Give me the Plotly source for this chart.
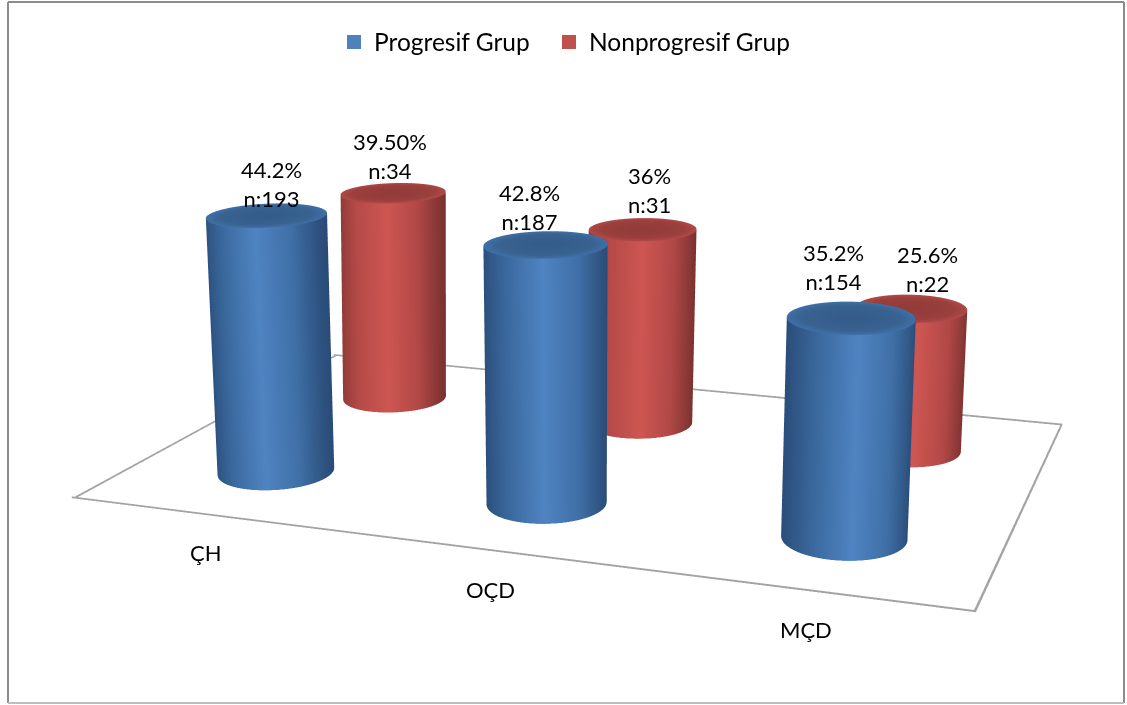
import numpy as np
import plotly.graph_objects as go

# Chart data
categories = ["ÇH", "OÇD", "MÇD"]
series_names = ["Progresif Grup", "Nonprogresif Grup"]
progresif_pct = [44.2, 42.8, 35.2]
nonprogresif_pct = [39.5, 36.0, 25.6]
progresif_labels = ["44.2%<br>n:193", "42.8%<br>n:187", "35.2%<br>n:154"]
nonprogresif_labels = ["39.50%<br>n:34", "36%<br>n:31", "25.6%<br>n:22"]

# Styling
FONT = "Lato, Carlito, sans-serif"
TEXT_SIZE = 22
TEXT_COLOR = "#000000"
BLUE_KEY, RED_KEY = "#4f81bd", "#c0504d"
BLUE_SIDE = [[0, "#2b4f7c"], [0.2, "#3a689d"], [0.5, "#4f84c2"], [0.78, "#3f6fa6"], [1, "#2a4c78"]]
RED_SIDE = [[0, "#8e3a38"], [0.2, "#b54a47"], [0.5, "#cd5652"], [0.78, "#b14846"], [1, "#7a3230"]]
BLUE_CAP = [[0, "#345b8a"], [0.75, "#38628f"], [1, "#3f70a8"]]
RED_CAP = [[0, "#913b39"], [0.75, "#9a3f3c"], [1, "#b04a47"]]
FLOOR_COLOR = [[0, "#a3a3a3"], [1, "#a3a3a3"]]
FLAT = dict(ambient=1, diffuse=0, specular=0, fresnel=0, roughness=1)

FIG_W, FIG_H = 1127, 1600
RADIUS_X, RADIUS_Y = 0.19, 0.215   # cylinder radius in category / series units
BASE_FLARE = 1.035                 # base ring drawn slightly wider than the top ring
COLUMN_OFFSET = 0.005              # small sideways nudge of every column on the floor
Z_MAX = 50
LEAN = 0.036                       # slight inward lean of the outer columns

# Floor limits, kept just inside the axis box so the ribbons are not clipped
FLOOR_X0, FLOOR_X1 = -0.498, 2.498
FLOOR_Y0, FLOOR_Y1 = -0.498, 1.498


def paper_y(px):
    return 1 - px / FIG_H


def cylinder(cat, ser, value, side_scale, cap_scale):
    """Side wall and top cap of one cylinder standing on the floor."""
    theta = np.linspace(0, 2 * np.pi, 121)
    shade = (np.cos(theta) * 0.94 + np.sin(theta) * 0.34 + 1) / 2
    base_cx = cat + COLUMN_OFFSET
    top_cx = base_cx + LEAN * (1 - cat) * value / Z_MAX
    sx0 = base_cx + BASE_FLARE * RADIUS_X * np.cos(theta)
    sx1 = top_cx + RADIUS_X * np.cos(theta)
    sy = ser + RADIUS_Y * np.sin(theta)
    side = go.Surface(
        x=np.vstack([sx0, sx1]), y=np.vstack([sy, sy]),
        z=np.vstack([np.zeros_like(theta), np.full_like(theta, value)]),
        surfacecolor=np.vstack([shade, shade]),
        colorscale=side_scale, cmin=0, cmax=1, showscale=False,
        lighting=FLAT, hoverinfo="skip",
    )
    rings = np.linspace(0, 1, 12)[:, None]
    cap = go.Surface(
        x=top_cx + rings * RADIUS_X * np.cos(theta),
        y=ser + rings * RADIUS_Y * np.sin(theta),
        z=np.full((12, 121), value),
        surfacecolor=rings * np.ones((12, 121)),
        colorscale=cap_scale, cmin=0, cmax=1, showscale=False,
        lighting=FLAT, hoverinfo="skip",
    )
    return [side, cap]


def floor_edge(x0, y0, x1, y1, dx=0.0, dz=0.0):
    """One floor outline edge as a narrow flat ribbon."""
    return go.Surface(
        x=[[x0, x1], [x0 + dx, x1 + dx]],
        y=[[y0, y1], [y0, y1]],
        z=[[0, 0], [dz, dz]],
        surfacecolor=[[0, 0], [0, 0]],
        colorscale=FLOOR_COLOR, cmin=0, cmax=1, showscale=False,
        lighting=FLAT, hoverinfo="skip",
    )


fig = go.Figure()

# Floor outline
fig.add_trace(floor_edge(FLOOR_X0, FLOOR_Y0, FLOOR_X1, FLOOR_Y0, dz=0.32))
fig.add_trace(floor_edge(FLOOR_X0, FLOOR_Y1, FLOOR_X1, FLOOR_Y1, dz=0.36))
fig.add_trace(floor_edge(FLOOR_X0, FLOOR_Y0, FLOOR_X0, FLOOR_Y1, dx=0.012))
fig.add_trace(floor_edge(FLOOR_X1, FLOOR_Y0, FLOOR_X1, FLOOR_Y1, dx=-0.0075))

# Back row first, then front row
for i, v in enumerate(nonprogresif_pct):
    fig.add_traces(cylinder(i, 1, v, RED_SIDE, RED_CAP))
for i, v in enumerate(progresif_pct):
    fig.add_traces(cylinder(i, 0, v, BLUE_SIDE, BLUE_CAP))

# Legend keys, one legend box per series
for name, color, box in zip(series_names, [BLUE_KEY, RED_KEY], ["legend", "legend2"]):
    fig.add_trace(go.Scatter3d(
        x=[None], y=[None], z=[None], mode="markers", name=name, legend=box,
        marker=dict(symbol="square", size=14, color=color),
    ))

# Value labels: pixel offsets from the top of each column
label_shift_front = [(15, 1), (-15, 7), (-24, 21)]
label_shift_back = [(5, 6), (8, 9), (12, 10)]
notes = []
for ser, vals, texts, shifts in [
    (0, progresif_pct, progresif_labels, label_shift_front),
    (1, nonprogresif_pct, nonprogresif_labels, label_shift_back),
]:
    for i, (v, t, (dx, dy)) in enumerate(zip(vals, texts, shifts)):
        notes.append(dict(
            x=i, y=ser, z=v, text=t, showarrow=False, xanchor="center", yanchor="bottom",
            xshift=dx, yshift=dy, font=dict(family=FONT, size=TEXT_SIZE, color=TEXT_COLOR),
        ))

# Category labels just in front of the floor
cat_shift = [(2, -37), (1, -38), (1, -38)]
for i, (name, (dx, dy)) in enumerate(zip(categories, cat_shift)):
    notes.append(dict(
        x=i, y=-0.5, z=0, text=name, showarrow=False, xanchor="center", yanchor="middle",
        xshift=dx, yshift=dy, font=dict(family=FONT, size=TEXT_SIZE, color=TEXT_COLOR),
    ))

hidden = dict(visible=False, showbackground=False, showgrid=False, zeroline=False,
              showticklabels=False, showspikes=False, title="")

# Frame around the chart area
frame = [
    (8, 2, 1124, 2, "#8c8c8c", 2),
    (8, 2, 8, 703, "#8c8c8c", 2),
    (1124, 2, 1124, 703, "#8c8c8c", 2),
    (8, 703, 1124, 703, "#bdbdbd", 2),
]
shapes = [dict(type="line", xref="paper", yref="paper", x0=a / FIG_W, x1=c / FIG_W,
               y0=paper_y(b), y1=paper_y(d), line=dict(color=col, width=w))
          for a, b, c, d, col, w in frame]

legend_style = dict(orientation="h", xanchor="left", y=paper_y(42), yanchor="middle",
                    bgcolor="rgba(0,0,0,0)", font=dict(family=FONT, size=24.5, color=TEXT_COLOR))

fig.update_layout(
    width=FIG_W, height=FIG_H,
    margin=dict(l=0, r=0, t=0, b=0, pad=0),
    paper_bgcolor="white",
    font=dict(family=FONT, size=TEXT_SIZE, color=TEXT_COLOR),
    showlegend=True,
    legend=dict(x=334 / FIG_W, **legend_style),
    legend2=dict(x=549 / FIG_W, **legend_style),
    shapes=shapes,
    scene=dict(
        domain=dict(x=[0, 1], y=[0, 1]),
        xaxis=dict(range=[-0.5, 2.5], **hidden),
        yaxis=dict(range=[-0.5, 1.5], **hidden),
        zaxis=dict(range=[0, Z_MAX], **hidden),
        aspectmode="manual",
        aspectratio=dict(x=1.457, y=0.965, z=0.475),
        camera=dict(
            projection=dict(type="perspective"),
            up=dict(x=0, y=0, z=1),
            eye=dict(x=1.0415, y=-3.0315, z=0.7625),
            center=dict(x=-0.0175, y=-0.107, z=-0.844),
        ),
        annotations=notes,
    ),
)

fig.write_html(
    "out.html",
    config=dict(displayModeBar=False),
    post_script="document.documentElement.style.overflow='hidden';document.body.style.overflow='hidden';",
)
